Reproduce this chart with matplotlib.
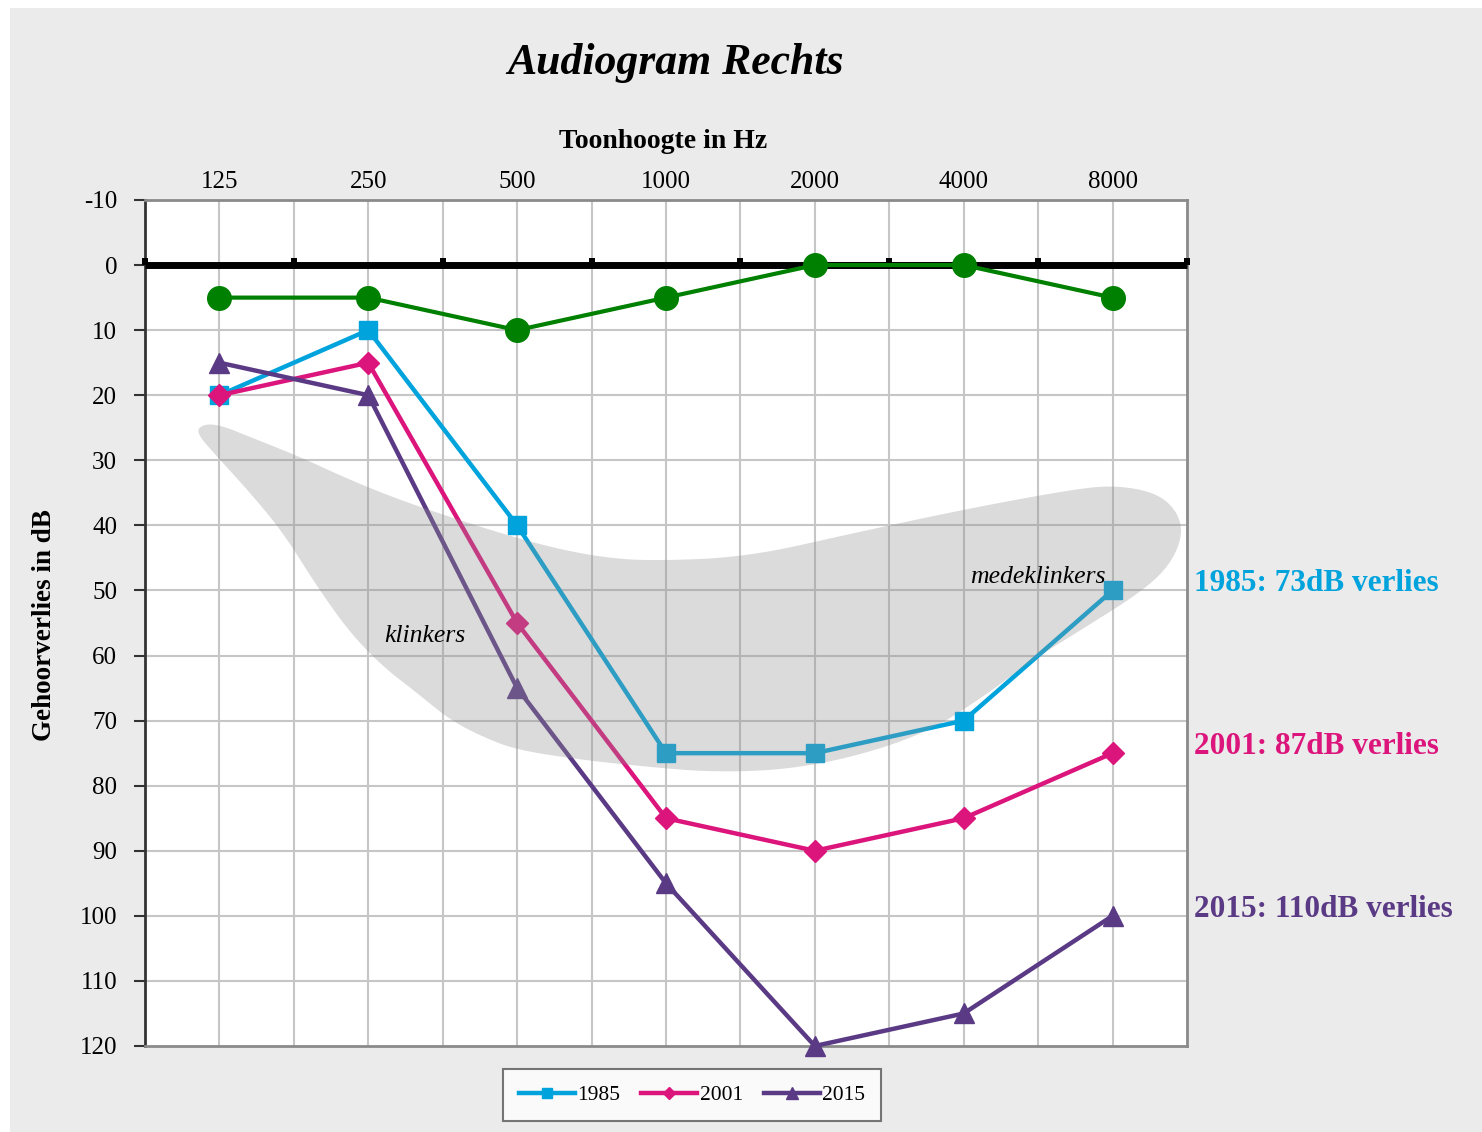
import matplotlib
matplotlib.use('Agg')
import matplotlib.pyplot as plt
import numpy as np
from matplotlib.patches import Polygon, Rectangle
from matplotlib.lines import Line2D

# ---------------- data ----------------
freqs = ['125', '250', '500', '1000', '2000', '4000', '8000']
normal = [5, 5, 10, 5, 0, 0, 5]
y1985 = [20, 10, 40, 75, 75, 70, 50]
y2001 = [20, 15, 55, 85, 90, 85, 75]
y2015 = [15, 20, 65, 95, 120, 115, 100]
series_names = ['1985', '2001', '2015']
loss_labels = ['1985: 73dB verlies', '2001: 87dB verlies', '2015: 110dB verlies']
db_ticks = list(range(-10, 121, 10))
db_labels = [str(v) for v in db_ticks]

# speech banana outline (x = frequency index, y = dB)
banana_x = [-0.161, -0.107, 0.007, 0.208, 0.544, 0.879, 1.215, 1.550, 1.886, 2.221,
            2.557, 2.893, 3.544, 4.262, 4.980, 5.705, 6.013, 6.302, 6.443, 6.470,
            6.376, 6.181, 5.819, 5.463, 5.101, 4.745, 4.262, 3.785, 3.302, 2.893,
            2.443, 2.000, 1.772, 1.550, 1.329, 1.101, 0.879, 0.658, 0.430, 0.208, -0.013]
banana_y = [25.66, 24.43, 24.59, 26.43, 29.50, 33.04, 36.11, 38.72, 41.18, 43.33,
            44.87, 45.48, 44.87, 41.18, 37.65, 34.57, 33.80, 35.03, 38.11, 41.79,
            46.40, 50.40, 55.62, 60.69, 66.84, 71.91, 75.60, 77.60, 77.90, 77.14,
            76.06, 74.52, 72.53, 69.91, 65.77, 61.77, 56.55, 49.48, 41.18, 35.03, 29.50]


def chaikin(pts, n=3):
    for _ in range(n):
        nxt = np.roll(pts, -1, axis=0)
        q = 0.75 * pts + 0.25 * nxt
        r = 0.25 * pts + 0.75 * nxt
        pts = np.empty((2 * len(pts), 2))
        pts[0::2] = q
        pts[1::2] = r
    return pts


# ---------------- style ----------------
plt.rcParams['font.family'] = ['Liberation Serif', 'DejaVu Serif']
c_green = '#008000'
c_1985 = '#00a3dc'
c_2001 = '#dc157c'
c_2015 = '#5b3a85'

W, H = 1482, 1132
fig = plt.figure(figsize=(W / 100, H / 100), dpi=100, facecolor='white')
fig.patches.append(Rectangle((10 / W, 0), 1, 1 - 8 / H, transform=fig.transFigure,
                             facecolor='#ebebeb', edgecolor='none', zorder=-10))

ax = fig.add_axes([145 / W, 1 - 1046 / H, (1187 - 145) / W, (1046 - 200) / H])
ax.set_facecolor('white')
x = np.arange(len(freqs))
ax.set_xlim(-0.5, 6.5)
ax.set_ylim(120, -10)

# grid
for xv in np.arange(0, 6.01, 0.5):
    ax.axvline(xv, color='#c6c6c6', lw=1.5, zorder=1)
for yv in db_ticks[1:-1]:
    ax.axhline(yv, color='#c6c6c6', lw=1.5, zorder=1)

# ticks & labels
ax.xaxis.tick_top()
ax.set_xticks(x)
ax.set_xticklabels(freqs)
ax.tick_params(axis='x', length=0, pad=5, labelsize=18)
ax.set_yticks(db_ticks)
ax.set_yticklabels(db_labels)
ax.tick_params(axis='y', length=8, width=1.5, color='#333333', pad=12,
               labelsize=18, direction='out')
for s in ['top', 'right', 'bottom']:
    ax.spines[s].set_color('#8a8a8a')
    ax.spines[s].set_linewidth(2)
ax.spines['left'].set_color('#333333')
ax.spines['left'].set_linewidth(2)

# zero line with tick marks
ax.plot([-0.5, 6.5], [0, 0], color='black', lw=5, solid_capstyle='butt', zorder=3,
        clip_on=False)
ax.vlines(np.arange(-0.5, 7.0, 1.0), -1.1, 0, color='black', lw=4.3, zorder=3,
          clip_on=False)

# series
ax.plot(x, normal, color=c_green, lw=3, marker='o', ms=17, zorder=4)
ax.plot(x, y1985, color=c_1985, lw=3.2, marker='s', ms=13, zorder=4)
ax.plot(x, y2001, color=c_2001, lw=3.2, marker='D', ms=11, zorder=4)
ax.plot(x, y2015, color=c_2015, lw=3.2, marker='^', ms=15, zorder=4, clip_on=False)

# speech banana overlay
banana = chaikin(np.column_stack([banana_x, banana_y]), 4)
ax.add_patch(Polygon(banana, closed=True, facecolor='#919191', edgecolor='none',
                     alpha=0.32, zorder=5))
ax.text(1.383, 57.0, 'klinkers', style='italic', fontsize=18.5, ha='center',
        va='center', zorder=6)
ax.text(5.497, 48.0, 'medeklinkers', style='italic', fontsize=18.5, ha='center',
        va='center', zorder=6)

# loss annotations
for lab, vals, col in zip(loss_labels, [y1985, y2001, y2015], [c_1985, c_2001, c_2015]):
    ax.text(6.55, vals[-1] - 1.0, lab, color=col, fontsize=22.5, fontweight='bold',
            ha='left', va='center', clip_on=False)

# titles
fig.text(676 / W, 1 - 63 / H, 'Audiogram Rechts', fontsize=31.5, fontweight='bold',
         style='italic', ha='center', va='center')
fig.text(663 / W, 1 - 141 / H, 'Toonhoogte in Hz', fontsize=20, fontweight='bold',
         ha='center', va='center')
fig.text(45 / W, 1 - 625 / H, 'Gehoorverlies in dB', fontsize=19.5, fontweight='bold',
         rotation=90, ha='center', va='center')

# legend
handles = [Line2D([], [], color=c_1985, lw=3.2, marker='s', ms=7),
           Line2D([], [], color=c_2001, lw=3.2, marker='D', ms=6),
           Line2D([], [], color=c_2015, lw=3.2, marker='^', ms=8)]
leg = fig.legend(handles, series_names, loc='center',
                 bbox_to_anchor=(692 / W, 1 - 1095 / H), ncol=3, frameon=True,
                 fancybox=False, edgecolor='#555555', fontsize=15.5, handlelength=2.6,
                 handletextpad=0.1, columnspacing=1.0, borderpad=0.75)
leg.get_frame().set_linewidth(1.5)
leg.get_frame().set_facecolor('white')

fig.savefig('out.png', dpi=100, facecolor=fig.get_facecolor())
